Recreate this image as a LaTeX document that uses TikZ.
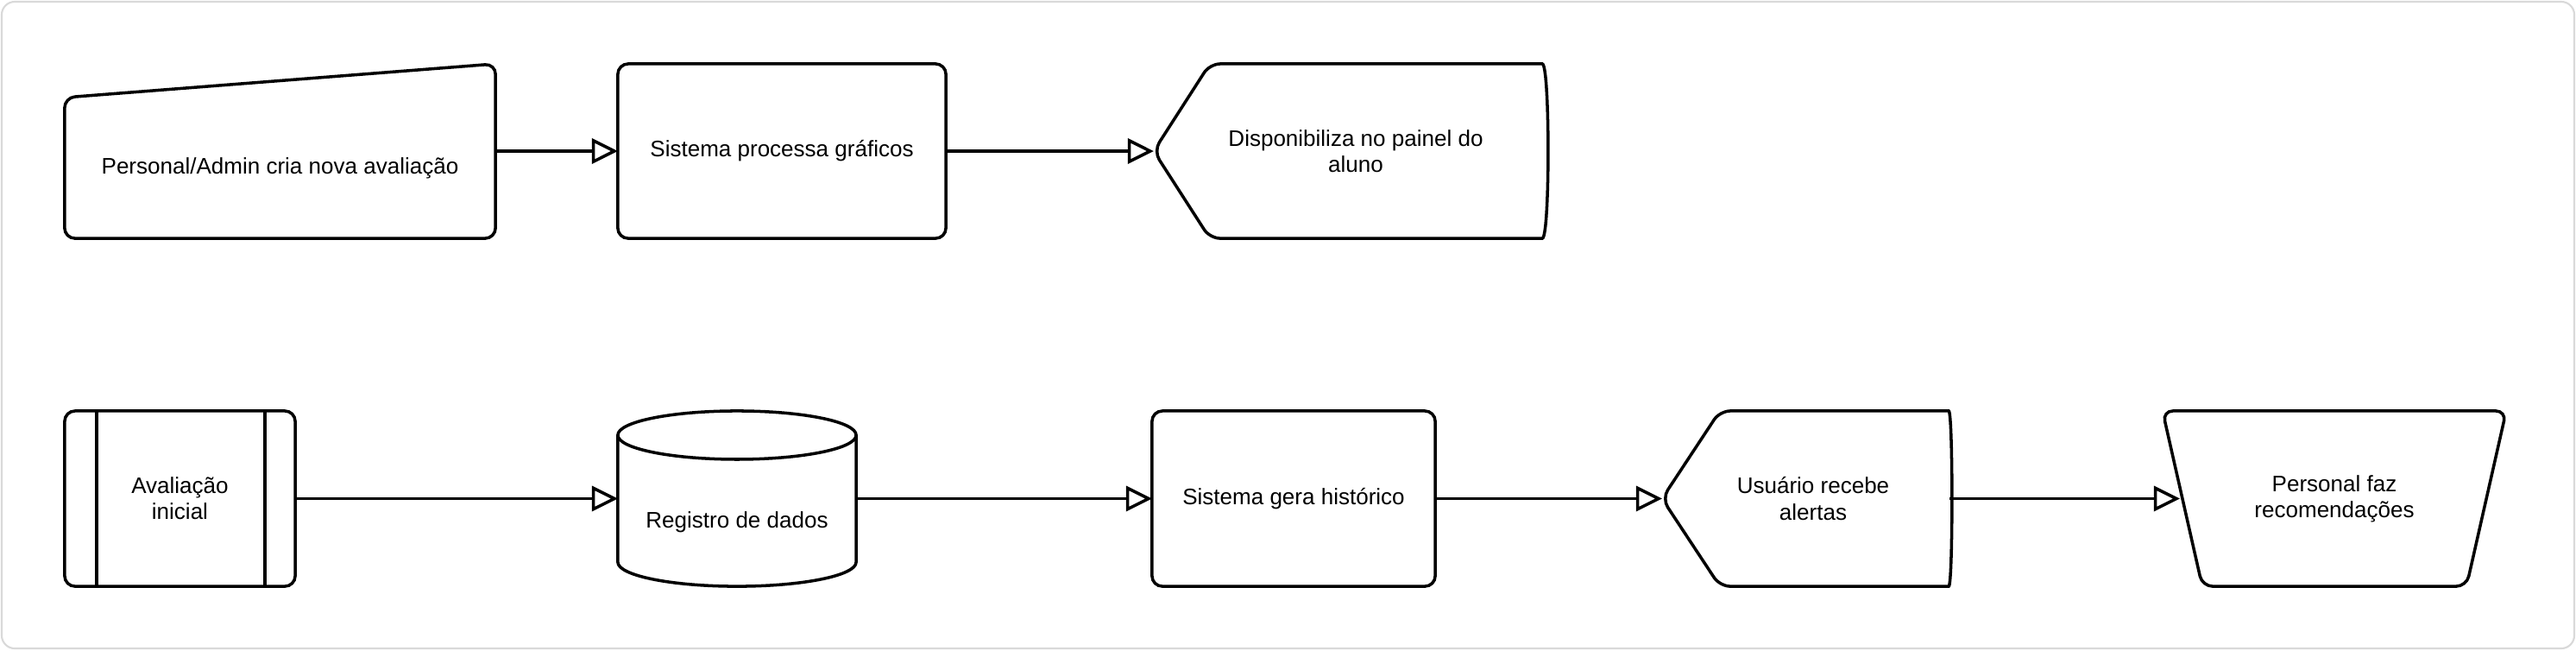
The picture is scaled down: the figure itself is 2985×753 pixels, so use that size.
\documentclass[tikz,border=0pt]{standalone}
\usepackage{fontspec}
\setmainfont{Liberation Sans}
\usetikzlibrary{arrows.meta}

\begin{document}
\begin{tikzpicture}
	[
	x=0.01cm, y=-0.01cm, font=\fontsize{7.4}{8.6}\selectfont, line width=1pt,
	>={Triangle[length=0.3cm, width=0.29cm, fill=white]}
	%Voreinstellung für Formen
	, box/.style={minimum width=#1, minimum height=2.02cm, inner sep=0pt, outer sep=0pt}
	, proc/.style={box=#1, draw, rounded corners=0.12cm, align=center}
	, txt/.style={align=center, inner sep=0pt}
	, flow/.style={->}
	]
	%Rahmen
	\useasboundingbox (0,0) rectangle (2985,753);
	\draw[gray!30, line width=0.6pt, fill=white, rounded corners=0.15cm] (2,2) rectangle (2983,751);
	
	%Zeile 1
	\node[box=4.99cm] (entrada) at (324.5,175) {};
	\draw[rounded corners=0.12cm] (entrada.south west) -- ([yshift=-0.39cm]entrada.north west) -- (entrada.north east) -- (entrada.south east) -- cycle;
	\node[txt] (entradatxt) at ([yshift=-0.2cm]entrada.center) {Personal/Admin cria nova avaliação};
	
	\node[proc=3.80cm] (graficos) at (906,175) {Sistema processa gráficos};
	
	\node[box=4.54cm] (painel) at (1564,175) {};
	\draw[rounded corners=0.12cm] (painel.west) -- ([xshift=0.65cm]painel.north west) -- ([xshift=-0.16cm]painel.north east) .. controls ([xshift=0.05cm]painel.north east) and ([xshift=0.05cm]painel.south east) .. ([xshift=-0.16cm]painel.south east) -- ([xshift=0.65cm]painel.south west) -- cycle;
	\node[txt] (paineltxt) at ([xshift=0.07cm]painel.center) {Disponibiliza no painel do\\aluno};
	
	\draw[flow] (entrada.east) -- (graficos.west);
	\draw[flow] (graficos.east) -- (painel.west);
	
	%Zeile 2
	\node[proc=2.67cm, minimum height=2.03cm] (avaliacao) at (208.5,577.5) {Avaliação\\inicial};
	\draw ([xshift=0.37cm]avaliacao.north west) -- ([xshift=0.37cm]avaliacao.south west);
	\draw ([xshift=-0.35cm]avaliacao.north east) -- ([xshift=-0.35cm]avaliacao.south east);
	
	\node[box=2.76cm, minimum height=2.03cm] (dados) at (854,577.5) {};
	\draw ([yshift=-0.28cm]dados.north) ellipse [x radius=1.38cm, y radius=0.28cm];
	\draw ([yshift=-0.28cm]dados.north west) -- ([yshift=0.28cm]dados.south west) arc[start angle=180, end angle=360, x radius=1.38cm, y radius=0.28cm] -- ([yshift=-0.28cm]dados.north east);
	\node[txt] (dadostxt) at ([yshift=-0.275cm]dados.center) {Registro de dados};
	
	\node[proc=3.28cm, minimum height=2.03cm] (historico) at (1499,577.5) {Sistema gera histórico};
	
	\node[box=3.33cm, minimum height=2.03cm] (alertas) at (2092.5,577.5) {};
	\draw[rounded corners=0.12cm] (alertas.west) -- ([xshift=0.67cm]alertas.north west) -- ([xshift=-0.13cm]alertas.north east) .. controls ([xshift=0.04cm]alertas.north east) and ([xshift=0.04cm]alertas.south east) .. ([xshift=-0.13cm]alertas.south east) -- ([xshift=0.67cm]alertas.south west) -- cycle;
	\node[txt] (alertastxt) at ([xshift=0.085cm]alertas.center) {Usuário recebe\\alertas};
	
	\node[box=3.98cm, minimum height=2.03cm, align=center] (recomenda) at (2705,577.5) {Personal faz\\recomendações};
	\draw[rounded corners=0.12cm] (recomenda.north west) -- (recomenda.north east) -- ([xshift=-0.46cm]recomenda.south east) -- ([xshift=0.46cm]recomenda.south west) -- cycle;
	
	\draw[flow] (avaliacao.east) -- (dados.west);
	\draw[flow] (dados.east) -- (historico.west);
	\draw[flow] (historico.east) -- (alertas.west);
	\draw[flow] (alertas.east) -- ([xshift=0.2cm]recomenda.west);
\end{tikzpicture}
\end{document}
